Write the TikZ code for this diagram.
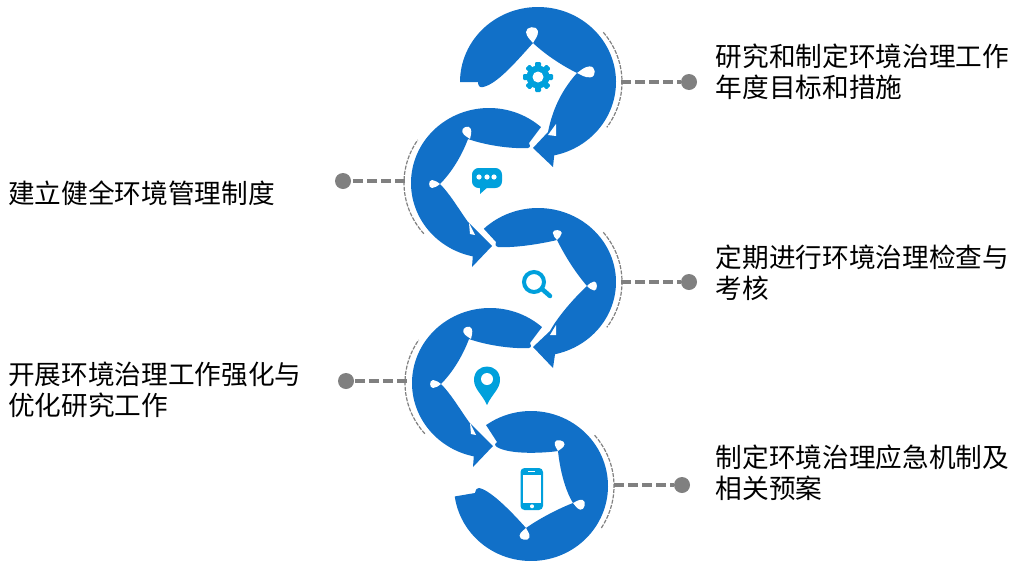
\documentclass[tikz,border=0pt]{standalone}
\usepackage{fontspec}
\setmainfont{Noto Sans CJK SC}
\definecolor{ringblue}{HTML}{1170C8}
\definecolor{iconblue}{HTML}{00A0DC}
\definecolor{leadgray}{HTML}{808080}
\newcommand{\wdrop}[5]{\fill[white,shift={(#1,#2)},rotate=#3,xscale=#4,yscale=#5]
  (0,0) .. controls (.2,.16) and (.4,.5) .. (.72,.5) .. controls (1.08,.5) and (1.08,-.5) .. (.72,-.5) .. controls (.4,-.5) and (.2,-.16) .. (0,0) -- cycle;}
\tikzset{
  ring/.style={fill=ringblue,draw=none},
  leader/.style={draw=leadgray,line width=3pt,dash pattern=on 7.5pt off 3pt},
  thinarc/.style={draw=leadgray,line width=.9pt,dash pattern=on 3pt off 1pt},
  enddot/.style={circle,fill=leadgray,draw=none,minimum size=12pt,inner sep=0pt},
  lab/.style={anchor=west,align=left,inner sep=0pt,font=\fontsize{20}{23}\selectfont},
  icon/.style={fill=iconblue,draw=none}
}
\begin{document}
\begin{tikzpicture}[x=.75pt,y=-.75pt]
\useasboundingbox (0,0) rectangle (1013,561);
% ---- ring 1
\fill[ring] plot[domain=180:438,samples=90] ({538+78*cos(\x)},{82+75*sin(\x)})
  -- (553,167) -- (533,148) -- (548,132)
  .. controls (552,112) and (560,92) .. (577,73)
  .. controls (563,66) and (547,56) .. (533,43)
  .. controls (515,63) and (497,84) .. (483,87)
  .. controls (480,88) and (478,86) .. (478,82) -- cycle;
\fill[white] (556,124) -- (556,136) -- (548,135) -- cycle;
\wdrop{533}{43}{95}{16}{12}
\wdrop{577}{73}{5}{18}{11}
% ---- ring 2
\fill[ring] plot[domain=-48.2:-258,samples=90] ({489+78*cos(\x)},{183+75*sin(\x)})
  -- (472,267) -- (492,246) -- (468,222)
  .. controls (458,208) and (450,194) .. (440,184)
  .. controls (452,172) and (462,155) .. (468,139)
  .. controls (485,145) and (510,149) .. (528,148)
  .. controls (531,147) and (530,145) .. (529,143) -- cycle;
\fill[white] (469,223) -- (470,234) -- (475,235) -- cycle;
\wdrop{470}{139}{112}{13}{9}
\wdrop{440}{184}{180}{11}{8}
% ---- ring 3
\fill[ring] plot[domain=226:437.4,samples=90] ({538+78*cos(\x)},{282+74*sin(\x)})
  -- (553,368) -- (533,347) -- (550,331)
  .. controls (557,318) and (572,300) .. (587,286)
  .. controls (575,272) and (565,256) .. (557,240)
  .. controls (540,244) and (515,248) .. (498,247)
  .. controls (495,246) and (495,244) .. (496,242) -- cycle;
\fill[white] (556,325) -- (556,335) -- (550,335) -- cycle;
\wdrop{557}{240}{88}{10}{9}
\wdrop{587}{286}{0}{10}{9}
% ---- ring 4
\fill[ring] plot[domain=-48.2:-258,samples=90] ({490+78*cos(\x)},{383+75*sin(\x)})
  -- (473,467) -- (493,446) -- (469,422)
  .. controls (459,408) and (451,394) .. (441,384)
  .. controls (453,372) and (463,355) .. (469,339)
  .. controls (486,345) and (511,349) .. (529,348)
  .. controls (532,347) and (531,345) .. (530,343) -- cycle;
\fill[white] (470,423) -- (471,434) -- (476,435) -- cycle;
\wdrop{471}{339}{112}{13}{9}
\wdrop{441}{384}{180}{11}{8}
% ---- ring 5
\fill[ring] plot[domain=234.3:532,samples=100] ({531+77*cos(\x)},{486+75*sin(\x)})
  -- (475,493) .. controls (476,489) and (477,488) .. (479,488)
  .. controls (490,490) and (510,510) .. (526,528)
  .. controls (540,518) and (560,508) .. (573,503)
  .. controls (565,490) and (560,470) .. (558,451)
  .. controls (545,453) and (510,455) .. (497,447)
  .. controls (494,445) and (495,443) .. (497,442) -- cycle;
\wdrop{526}{528}{-100}{12}{10}
\wdrop{573}{503}{-12}{12}{10}
\wdrop{558}{451}{78}{11}{10}
% ---- thin arcs
\draw[thinarc] plot[domain=-39:35,samples=40] ({538+84*cos(\x)},{82+79*sin(\x)});
\draw[thinarc] plot[domain=140:213,samples=40] ({489+85*cos(\x)},{183+79*sin(\x)});
\draw[thinarc] plot[domain=-39:35,samples=40] ({538+84*cos(\x)},{282+79*sin(\x)});
\draw[thinarc] plot[domain=140:213,samples=40] ({490+85*cos(\x)},{383+79*sin(\x)});
\draw[thinarc] plot[domain=-40:33,samples=40] ({531+83*cos(\x)},{486+79*sin(\x)});
% ---- connectors
\node[enddot] (d1) at (689,82) {};
\node[enddot] (d2) at (343,181) {};
\node[enddot] (d3) at (689,282) {};
\node[enddot] (d4) at (346,381) {};
\node[enddot] (d5) at (682,485) {};
\coordinate (a1) at (621,82);
\coordinate (a2) at (405,181);
\coordinate (a3) at (621,282);
\coordinate (a4) at (407,381);
\coordinate (a5) at (614,485);
\draw[leader] (a1) -- (d1);
\draw[leader] (a2) -- (d2);
\draw[leader] (a3) -- (d3);
\draw[leader] (a4) -- (d4);
\draw[leader] (a5) -- (d5);
% ---- gear
\foreach \a in {0,45,...,315}
  \fill[icon,shift={(538,77)},rotate=\a,rounded corners=.8pt] (-3,-15) rectangle (3,0);
\fill[icon] (538,77) circle[radius=11.5];
\fill[white] (538,77) circle[radius=5.5];
% ---- chat bubble
\fill[icon,rounded corners=5pt] (472,168) rectangle (502,188);
\fill[icon] (480,186) -- (480,194) -- (489,186) -- cycle;
\fill[white] (479,177) circle[radius=2.6] (487,177) circle[radius=2.6] (494,177) circle[radius=2.6];
% ---- magnifier
\draw[draw=iconblue,line width=3pt] (534,282) circle[radius=10];
\draw[draw=iconblue,line width=3.4pt,line cap=round] (542,289) -- (550,296);
% ---- pin
\fill[icon] (487,405) .. controls (482,394) and (474,389) .. (474,380)
  .. controls (474,362) and (500,362) .. (500,380)
  .. controls (500,389) and (492,394) .. (487,405) -- cycle;
\fill[white] (487,379) circle[radius=6];
% ---- phone
\fill[icon,rounded corners=3pt] (520.5,468) rectangle (543,510);
\fill[white] (522.5,475) rectangle (541,503);
\fill[white] (528,470.7) rectangle (535,472);
\fill[white] (532,506.3) circle[radius=2];
% ---- labels
\node[lab] (t1) at (715.5,72) {研究和制定环境治理工作\\年度目标和措施};
\node[lab] (t2) at (8,193) {建立健全环境管理制度};
\node[lab] (t3) at (715.5,273) {定期进行环境治理检查与\\考核};
\node[lab] (t4) at (8,390) {开展环境治理工作强化与\\优化研究工作};
\node[lab] (t5) at (715.5,473) {制定环境治理应急机制及\\相关预案};
\end{tikzpicture}
\end{document}
